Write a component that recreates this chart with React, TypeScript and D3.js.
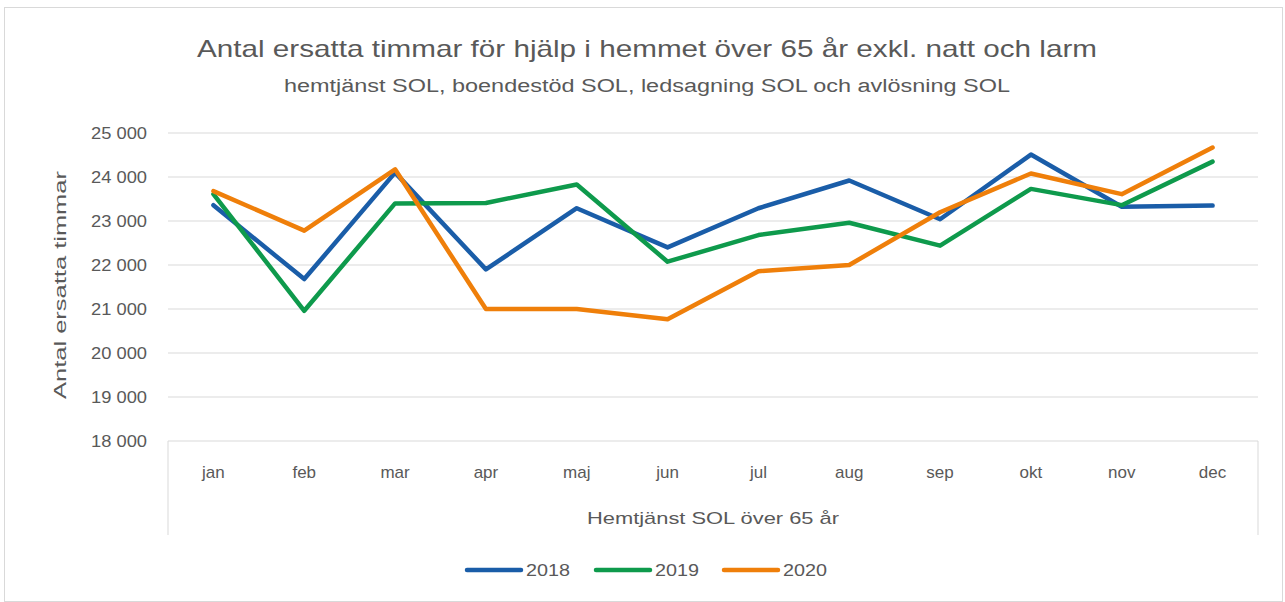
import React from "react";
import * as d3 from "d3";

const months = ["jan", "feb", "mar", "apr", "maj", "jun", "jul", "aug", "sep", "okt", "nov", "dec"];
const v2018 = [23360, 21680, 24100, 21900, 23290, 22400, 23290, 23920, 23040, 24510, 23325, 23350];
const v2019 = [23610, 20960, 23400, 23410, 23830, 22075, 22680, 22960, 22440, 23730, 23360, 24350];
const v2020 = [23680, 22780, 24175, 21000, 21000, 20765, 21860, 22000, 23200, 24080, 23610, 24670];
const yTicks = [18000, 19000, 20000, 21000, 22000, 23000, 24000, 25000];
const seriesNames = ["2018", "2019", "2020"];
const seriesColors = ["#1a5da8", "#0e9a4c", "#ef7f0a"];

const W = 1285, H = 602;
const L = 168, R = 1258, T = 133, B = 441;
const FONT = "'Liberation Sans', Arial, sans-serif";
const TXT = "#595959";

export default function App() {
  const x = d3.scaleBand<string>().domain(months).range([L, R]);
  const y = d3.scaleLinear().domain([18000, 25000]).range([B, T]);
  const line = d3.line<number>()
    .x((_, i) => (x(months[i]) as number) + x.bandwidth() / 2)
    .y((d) => y(d));
  const fmt = (v: number) => d3.format(",")(v).replace(/,/g, " ");
  const series = [v2018, v2019, v2020];
  const legendX = [467, 596, 724];

  return (
    <svg width={W} height={H} style={{ position: "absolute", left: 0, top: 0, background: "#fff" }}>
      <rect x={4.5} y={7.5} width={1278} height={594} fill="#fff" stroke="#d9d9d9" />
      <text x={647} y={57} textAnchor="middle" fontFamily={FONT} fontSize={24} fill={TXT}
        textLength={900} lengthAdjust="spacingAndGlyphs">
        Antal ersatta timmar för hjälp i hemmet  över 65 år exkl. natt och larm
      </text>
      <text x={647} y={92} textAnchor="middle" fontFamily={FONT} fontSize={18} fill={TXT}
        textLength={726} lengthAdjust="spacingAndGlyphs">
        hemtjänst SOL, boendestöd SOL, ledsagning SOL och avlösning SOL
      </text>
      {yTicks.map((t) => (
        <g key={t}>
          {t > 18000 && <line x1={L} x2={R} y1={y(t)} y2={y(t)} stroke="#d9d9d9" strokeWidth={1} />}
          <text x={147} y={y(t) + 6} textAnchor="end" fontFamily={FONT} fontSize={16} fill={TXT}
            textLength={56} lengthAdjust="spacingAndGlyphs">
            {fmt(t)}
          </text>
        </g>
      ))}
      <line x1={L} x2={R} y1={B} y2={B} stroke="#d9d9d9" strokeWidth={1} />
      <line x1={L} x2={L} y1={B} y2={535} stroke="#d9d9d9" strokeWidth={1} />
      <line x1={R} x2={R} y1={B} y2={535} stroke="#d9d9d9" strokeWidth={1} />
      <text transform={`translate(66,285) rotate(-90)`} textAnchor="middle" fontFamily={FONT} fontSize={17} fill={TXT}
        textLength={228} lengthAdjust="spacingAndGlyphs">
        Antal ersatta timmar
      </text>
      {months.map((m) => (
        <text key={m} x={(x(m) as number) + x.bandwidth() / 2} y={478} textAnchor="middle"
          fontFamily={FONT} fontSize={17} fill={TXT}>
          {m}
        </text>
      ))}
      <text x={713} y={524} textAnchor="middle" fontFamily={FONT} fontSize={17} fill={TXT}
        textLength={252} lengthAdjust="spacingAndGlyphs">
        Hemtjänst SOL över 65 år
      </text>
      {series.map((s, i) => (
        <path key={i} d={line(s) as string} fill="none" stroke={seriesColors[i]} strokeWidth={4.5}
          strokeLinejoin="round" strokeLinecap="round" />
      ))}
      {seriesNames.map((n, i) => (
        <g key={n}>
          <line x1={legendX[i]} x2={legendX[i] + 54} y1={570} y2={570} stroke={seriesColors[i]} strokeWidth={4.5} strokeLinecap="round" />
          <text x={legendX[i] + 59} y={576} fontFamily={FONT} fontSize={17} fill={TXT}
            textLength={44} lengthAdjust="spacingAndGlyphs">
            {n}
          </text>
        </g>
      ))}
    </svg>
  );
}
